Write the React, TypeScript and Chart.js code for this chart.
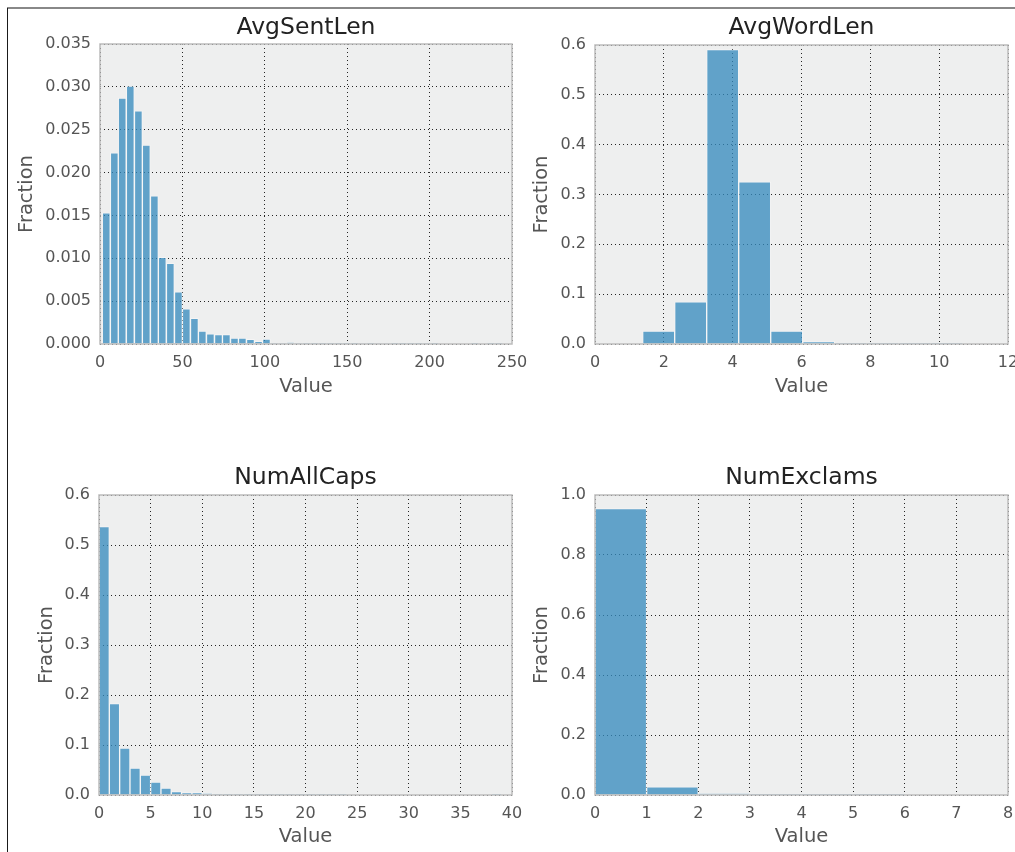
import React, { useEffect, useRef } from "react";
import { Chart, registerables } from "chart.js";

Chart.register(...registerables);

const FONT = "'DejaVu Sans', sans-serif";

// ---- AvgSentLen histogram ----
const sentLenCenters = [
  3.8, 8.7, 13.5, 18.4, 23.3, 28.1, 33.0, 37.8, 42.7, 47.6,
  52.4, 57.3, 62.1, 67.0, 71.9, 76.7, 81.6, 86.4, 91.3, 96.2,
  101.0, 105.9, 110.8, 115.6, 120.5, 125.3, 130.2, 135.1, 139.9, 144.8,
  149.6, 154.5, 159.4, 164.2, 169.1, 173.9, 178.8, 183.7, 188.5, 193.4,
  198.3, 203.1, 208.0, 212.8, 217.7, 222.6, 227.4, 232.3, 237.1, 242.0,
];
const sentLenFractions = [
  0.0153, 0.0223, 0.0287, 0.0301, 0.0272, 0.0232, 0.0173, 0.0101, 0.0094, 0.0061,
  0.0041, 0.003, 0.0015, 0.0012, 0.0011, 0.0011, 0.0007, 0.0007, 0.00054, 0.00031,
  0.00058, 0.00005, 0.00005, 0.00015, 0.00005, 0.00003, 0.00003, 0.00002, 0.00004, 0.00008,
  0.0001, 0.00012, 0.00006, 0.00002, 0.00006, 0.00006, 0.00002, 0.00001, 0.00001, 0.00001,
  0.00005, 0.00001, 0.0, 0.0, 0.0, 0.0, 0.00001, 0.0, 0.00001, 0.00004,
];
const sentLenXTicks = { min: 0, max: 250, step: 50 };
const sentLenYTicks = { min: 0, max: 0.035, step: 0.005, decimals: 3 };

// ---- AvgWordLen histogram ----
const wordLenCenters = [1.85, 2.78, 3.71, 4.64, 5.57, 6.5, 7.43, 8.36, 9.29, 10.22];
const wordLenFractions = [0.026, 0.0846, 0.5906, 0.3256, 0.026, 0.0047, 0.0012, 0.0008, 0.0005, 0.0004];
const wordLenXTicks = { min: 0, max: 12, step: 2 };
const wordLenYTicks = { min: 0, max: 0.6, step: 0.1, decimals: 1 };

// ---- NumAllCaps histogram ----
const allCapsCenters = [
  0.5, 1.5, 2.5, 3.5, 4.5, 5.5, 6.5, 7.5, 8.5, 9.5,
  10.5, 11.5, 12.5, 13.5, 14.5, 15.5, 16.5, 17.5, 18.5, 19.5,
  20.5, 21.5, 22.5, 23.5, 24.5, 25.5, 26.5, 27.5, 28.5, 29.5,
  30.5, 31.5, 32.5, 33.5, 34.5, 35.5, 36.5, 37.5, 38.5,
];
const allCapsFractions = [
  0.537, 0.183, 0.094, 0.054, 0.04, 0.026, 0.014, 0.0067, 0.0047, 0.0047,
  0.0027, 0.0005, 0.002, 0.0005, 0.002, 0.0003, 0.0002, 0.0001, 0.0008, 0.0002,
  0.0001, 0.0001, 0.0008, 0.0001, 0.0, 0.0, 0.0, 0.0, 0.0, 0.0,
  0.0, 0.0, 0.0, 0.0, 0.0, 0.0, 0.0, 0.0, 0.0001,
];
const allCapsXTicks = { min: 0, max: 40, step: 5 };
const allCapsYTicks = { min: 0, max: 0.6, step: 0.1, decimals: 1 };

// ---- NumExclams histogram ----
const exclamsCenters = [0.5, 1.5, 2.5, 3.5, 4.5, 5.5];
const exclamsFractions = [0.955, 0.027, 0.004, 0.0012, 0.0008, 0.0006];
const exclamsXTicks = { min: 0, max: 8, step: 1 };
const exclamsYTicks = { min: 0, max: 1.0, step: 0.2, decimals: 1 };

const BAR_FILL = "rgba(52,138,189,0.76)";
const BAR_EDGE = "rgba(255,255,255,0.4)";
const GRID_COLOR = "rgba(0,0,0,0.85)";
const TICK_COLOR = "#555555";
const TITLE_COLOR = "#222222";
const PLOT_BG = "#eeefef";
const PLOT_EDGE = "#bcbcbc";

const PAD_R = 30;
const XAXIS_H = 56;
const TITLE_SIZE = 23.5;
const LABEL_SIZE = 19.5;
const TICK_SIZE = 16;

type Panel = {
  title: string;
  centers: number[];
  values: number[];
  xt: { min: number; max: number; step: number };
  yt: { min: number; max: number; step: number; decimals: number };
  left: number;
  top: number;
  areaLeft: number;
  areaTop: number;
  areaRight: number;
  areaBottom: number;
  titleY: number;
  xLabelY: number;
  yLabelX: number;
};

const panels: Panel[] = [
  {
    title: "AvgSentLen", centers: sentLenCenters, values: sentLenFractions,
    xt: sentLenXTicks, yt: sentLenYTicks,
    left: 0, top: 0, areaLeft: 100, areaTop: 44, areaRight: 512, areaBottom: 344,
    titleY: 28, xLabelY: 386.5, yLabelX: 27,
  },
  {
    title: "AvgWordLen", centers: wordLenCenters, values: wordLenFractions,
    xt: wordLenXTicks, yt: wordLenYTicks,
    left: 520, top: 0, areaLeft: 595, areaTop: 45, areaRight: 1008, areaBottom: 344,
    titleY: 28, xLabelY: 386.5, yLabelX: 542,
  },
  {
    title: "NumAllCaps", centers: allCapsCenters, values: allCapsFractions,
    xt: allCapsXTicks, yt: allCapsYTicks,
    left: 0, top: 450, areaLeft: 99, areaTop: 495, areaRight: 512, areaBottom: 795,
    titleY: 478, xLabelY: 836.5, yLabelX: 47,
  },
  {
    title: "NumExclams", centers: exclamsCenters, values: exclamsFractions,
    xt: exclamsXTicks, yt: exclamsYTicks,
    left: 520, top: 450, areaLeft: 595, areaTop: 495, areaRight: 1008, areaBottom: 795,
    titleY: 478, xLabelY: 836.5, yLabelX: 542,
  },
];

const framePlugin = {
  id: "plotFrame",
  beforeDraw(chart: any) {
    const { ctx, chartArea: a } = chart;
    ctx.save();
    ctx.fillStyle = PLOT_BG;
    ctx.fillRect(a.left, a.top, a.right - a.left, a.bottom - a.top);
    ctx.restore();
  },
  afterDraw(chart: any, _args: any, opts: any) {
    const { ctx, chartArea: a } = chart;
    ctx.save();
    ctx.strokeStyle = PLOT_EDGE;
    ctx.lineWidth = 1.5;
    ctx.strokeRect(a.left, a.top, a.right - a.left, a.bottom - a.top);
    // panel title, centred over the plot area
    if (opts && opts.text) {
      ctx.fillStyle = TITLE_COLOR;
      ctx.font = `${TITLE_SIZE}px ${FONT}`;
      ctx.textAlign = "center";
      ctx.textBaseline = "middle";
      ctx.fillText(opts.text, (a.left + a.right) / 2, opts.y);
    }
    ctx.restore();
  },
};

function HistPanel({ p }: { p: Panel }) {
  const ref = useRef<HTMLCanvasElement>(null);
  const W = p.areaRight + PAD_R - p.left;
  const H = p.areaBottom + XAXIS_H - p.top;

  useEffect(() => {
    const canvas = ref.current;
    if (!canvas) return;
    const labelLH = LABEL_SIZE * 1.2;
    const xTitlePadBottom = p.areaBottom + XAXIS_H - p.xLabelY - labelLH / 2;
    const yTitlePadTop = p.yLabelX - p.left - labelLH / 2;
    const yAxisW = p.areaLeft - p.left;

    const chart = new Chart(canvas, {
      type: "bar",
      data: {
        datasets: [
          {
            data: p.centers.map((x, i) => ({ x, y: p.values[i] })),
            backgroundColor: BAR_FILL,
            borderColor: BAR_EDGE,
            borderWidth: 1,
            barPercentage: 1,
            categoryPercentage: 1,
          } as any,
        ],
      },
      options: {
        responsive: false,
        maintainAspectRatio: false,
        animation: false,
        layout: { padding: { left: 0, top: p.areaTop - p.top, right: PAD_R, bottom: 0 } },
        plugins: {
          legend: { display: false },
          tooltip: { enabled: false },
          title: { display: false },
          plotFrame: { text: p.title, y: p.titleY - p.top },
        },
        scales: {
          x: {
            type: "linear",
            min: p.xt.min,
            max: p.xt.max,
            offset: false,
            z: 1,
            afterFit: (s: any) => {
              s.height = XAXIS_H;
            },
            ticks: {
              stepSize: p.xt.step,
              color: TICK_COLOR,
              font: { family: FONT, size: TICK_SIZE, lineHeight: 1.2 },
              padding: 9,
              maxRotation: 0,
              autoSkip: false,
              callback: (v: any) => String(v),
            },
            grid: { color: GRID_COLOR, lineWidth: 1, drawTicks: false, offset: false },
            border: { display: false, dash: [1, 3] },
            title: {
              display: true,
              text: "Value",
              color: TICK_COLOR,
              font: { family: FONT, size: LABEL_SIZE, lineHeight: 1.2 },
              padding: { top: 0, bottom: xTitlePadBottom },
            },
          },
          y: {
            type: "linear",
            min: p.yt.min,
            max: p.yt.max,
            z: 1,
            afterFit: (s: any) => {
              s.width = yAxisW;
            },
            ticks: {
              stepSize: p.yt.step,
              color: TICK_COLOR,
              font: { family: FONT, size: TICK_SIZE, lineHeight: 1.2 },
              padding: 9,
              callback: (v: any) => Number(v).toFixed(p.yt.decimals),
            },
            grid: { color: GRID_COLOR, lineWidth: 1, drawTicks: false },
            border: { display: false, dash: [1, 3] },
            title: {
              display: true,
              text: "Fraction",
              color: TICK_COLOR,
              font: { family: FONT, size: LABEL_SIZE, lineHeight: 1.2 },
              padding: { top: yTitlePadTop, bottom: 0 },
            },
          },
        },
      } as any,
      plugins: [framePlugin],
    });
    return () => chart.destroy();
  }, []);

  return (
    <canvas
      ref={ref}
      width={W}
      height={H}
      style={{ position: "absolute", left: p.left, top: p.top, width: W, height: H }}
    />
  );
}

export default function App() {
  return (
    <div
      style={{
        position: "absolute",
        left: 0,
        top: 0,
        width: 1015,
        height: 852,
        overflow: "hidden",
        background: "#ffffff",
      }}
    >
      {panels.map((p) => (
        <HistPanel key={p.title} p={p} />
      ))}
      <div style={{ position: "absolute", left: 7, top: 7, width: 1008, height: 2, background: "#888888" }} />
      <div style={{ position: "absolute", left: 7, top: 8, width: 1, height: 844, background: "#1a1a1a" }} />
    </div>
  );
}
